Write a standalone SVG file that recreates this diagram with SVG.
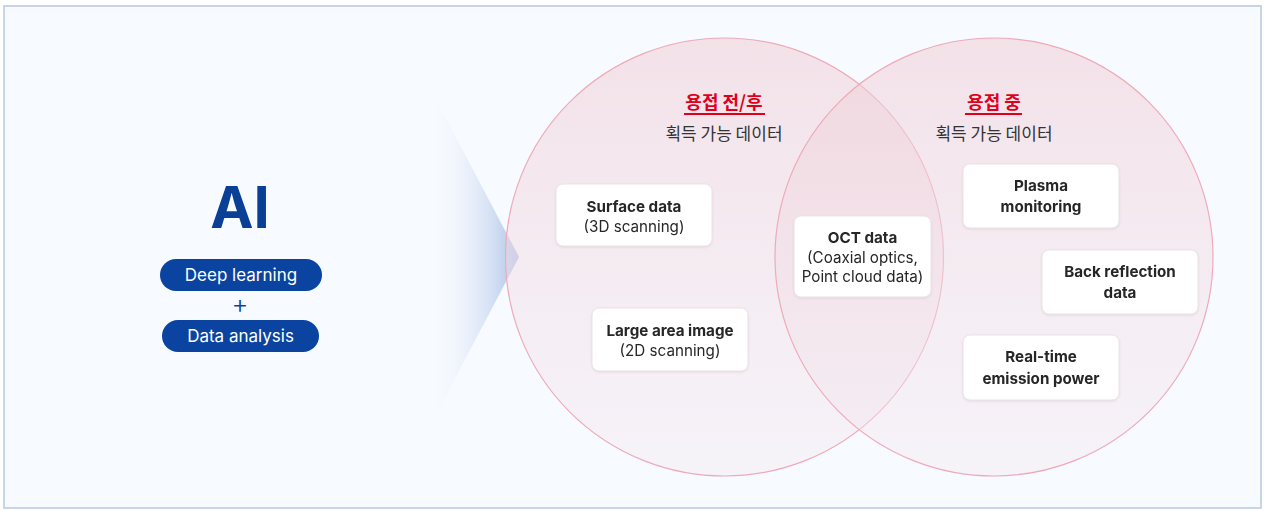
<svg xmlns="http://www.w3.org/2000/svg" width="1264" height="511" viewBox="0 0 1264 511">
<defs>
<linearGradient id="circ" x1="0" y1="0" x2="0" y2="1">
<stop offset="0" stop-color="#f0cdd5" stop-opacity="0.55"/>
<stop offset="1" stop-color="#f3e8f0" stop-opacity="0.4"/>
</linearGradient>
<linearGradient id="wedge" x1="0" y1="0" x2="1" y2="0">
<stop offset="0" stop-color="#f7faff" stop-opacity="0"/>
<stop offset="1" stop-color="#a9c0e6" stop-opacity="0.95"/>
</linearGradient>
<filter id="sh" x="-10%" y="-10%" width="120%" height="130%">
<feDropShadow dx="0" dy="1" stdDeviation="1" flood-color="#c8b8c0" flood-opacity="0.4"/>
</filter>
<style>
.box{fill:#ffffff;stroke:#ebe3e6;stroke-width:1}
.b{font-family:Inter,"Noto Sans",sans-serif;font-weight:700;font-size:15.2px;fill:#262626;text-anchor:middle}
.r{font-family:Inter,"Noto Sans",sans-serif;font-weight:400;font-size:15.2px;fill:#262626;text-anchor:middle}
.h{font-family:"Noto Sans CJK KR",sans-serif;font-weight:700;font-size:18px;fill:#e0001b;text-anchor:middle}
.s{font-family:"Noto Sans CJK KR",sans-serif;font-weight:400;font-size:17px;fill:#333333;text-anchor:middle}
.pill{fill:#0a44a0}
.pt{font-family:Inter,"Noto Sans",sans-serif;font-size:17px;fill:#ffffff;text-anchor:middle}
</style>
</defs>
<rect x="4" y="6" width="1257" height="502" fill="#f7faff" stroke="#c6d5ea" stroke-width="2"/>
<g id="wedge-shape"><polygon points="430,88 519,257 430,426" fill="url(#wedge)"/></g>
<g id="circle-left"><circle cx="724.5" cy="257" r="219" fill="url(#circ)" stroke="#eeaab8" stroke-width="1.2"/></g>
<g id="circle-right"><circle cx="994" cy="257" r="219" fill="url(#circ)" stroke="#eeaab8" stroke-width="1.2"/></g>
<g id="ai">
<text x="240" y="228" font-family="Inter,'Noto Sans',sans-serif" font-weight="700" font-size="58" fill="#0a3f96" text-anchor="middle">AI</text>
</g>
<g id="deep-learning"><rect class="pill" x="160" y="259" width="162" height="32" rx="16"/><text class="pt" x="241" y="281">Deep learning</text></g>
<g id="plus"><text x="240" y="313" font-family="Inter,'Noto Sans',sans-serif" font-weight="300" font-size="26" fill="#0a44a0" text-anchor="middle">+</text></g>
<g id="data-analysis"><rect class="pill" x="162" y="320" width="157" height="32" rx="16"/><text class="pt" x="240.5" y="342">Data analysis</text></g>
<g id="heading-left">
<text class="h" x="724" y="109">용접 전/후</text>
<line x1="684" y1="114" x2="765" y2="114" stroke="#e0001b" stroke-width="2"/>
<text class="s" x="724" y="140">획득 가능 데이터</text>
</g>
<g id="heading-right">
<text class="h" x="994" y="109">용접 중</text>
<line x1="965" y1="114" x2="1022" y2="114" stroke="#e0001b" stroke-width="2"/>
<text class="s" x="994" y="140">획득 가능 데이터</text>
</g>
<g id="surface" filter="url(#sh)"><rect class="box" x="556" y="184" width="156" height="62" rx="7"/><text class="b" x="634" y="212">Surface data</text><text class="r" x="634" y="232">(3D scanning)</text></g>
<g id="large-area" filter="url(#sh)"><rect class="box" x="592" y="308" width="156" height="63" rx="7"/><text class="b" x="670" y="336">Large area image</text><text class="r" x="670" y="356">(2D scanning)</text></g>
<g id="oct" filter="url(#sh)"><rect class="box" x="794" y="216" width="137" height="81" rx="7"/><text class="b" x="862.5" y="243">OCT data</text><text class="r" x="862.5" y="263">(Coaxial optics,</text><text class="r" x="862.5" y="282">Point cloud data)</text></g>
<g id="plasma" filter="url(#sh)"><rect class="box" x="963" y="164" width="156" height="64" rx="7"/><text class="b" x="1041" y="191">Plasma</text><text class="b" x="1041" y="212">monitoring</text></g>
<g id="back-reflection" filter="url(#sh)"><rect class="box" x="1042" y="250" width="156" height="64" rx="7"/><text class="b" x="1120" y="277">Back reflection</text><text class="b" x="1120" y="298">data</text></g>
<g id="emission" filter="url(#sh)"><rect class="box" x="963" y="335" width="156" height="65" rx="7"/><text class="b" x="1041" y="362">Real-time</text><text class="b" x="1041" y="384">emission power</text></g>
<g id="connectors"></g>
</svg>
